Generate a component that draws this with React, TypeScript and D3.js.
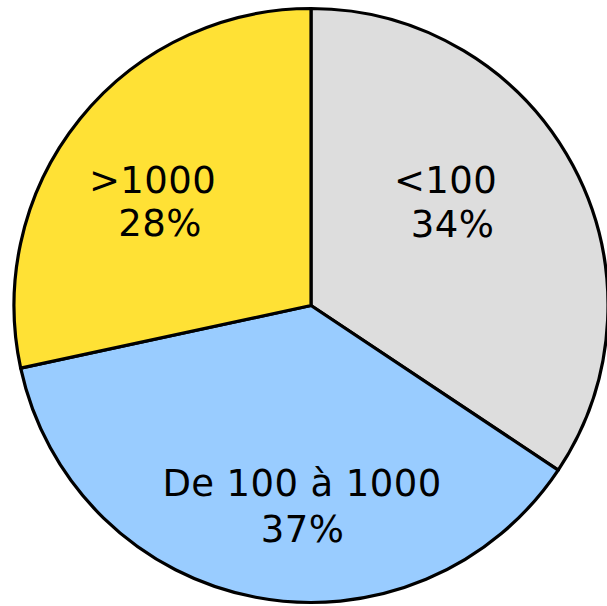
import React from "react";
import * as d3 from "d3";

const categories = ["<100", "De 100 à 1000", ">1000"];
const values = [34.35, 37.27, 28.38];
const percentLabels = ["34%", "37%", "28%"];
const colors = ["#dddddd", "#99ccff", "#ffe135"];

const W = 607;
const H = 606;
const CX = 311;
const CY = 305.5;
const R = 297;

// label layout: [line1 centre x, line1 baseline, line2 centre x, line2 baseline]
const labelLayout = [
  [445.5, 193, 452.5, 237],
  [302, 496, 302.5, 541.5],
  [152.5, 192.5, 160, 236],
];

export default function App() {
  const pie = d3
    .pie<number>()
    .sort(null)
    .startAngle(0)
    .endAngle(2 * Math.PI)
    .value((d) => d);
  const arcs = pie(values);
  const arc = d3.arc<d3.PieArcDatum<number>>().innerRadius(0).outerRadius(R);

  return (
    <svg
      width={W}
      height={H}
      style={{ position: "absolute", left: 0, top: 0, background: "#fff" }}
    >
      <g transform={`translate(${CX},${CY})`}>
        {arcs.map((a, i) => (
          <path
            key={i}
            d={arc(a) || ""}
            fill={colors[i]}
            stroke="#000"
            strokeWidth={3.2}
            strokeLinejoin="round"
          />
        ))}
      </g>
      {arcs.map((a, i) => {
        const l = labelLayout[i];
        return (
          <g
            key={"t" + i}
            fontFamily="'DejaVu Sans', Verdana, sans-serif"
            fontSize={37}
            letterSpacing={0.4}
            fill="#000"
            textAnchor="middle"
          >
            <text x={l[0]} y={l[1]}>{categories[i]}</text>
            <text x={l[2]} y={l[3]}>{percentLabels[i]}</text>
          </g>
        );
      })}
    </svg>
  );
}
